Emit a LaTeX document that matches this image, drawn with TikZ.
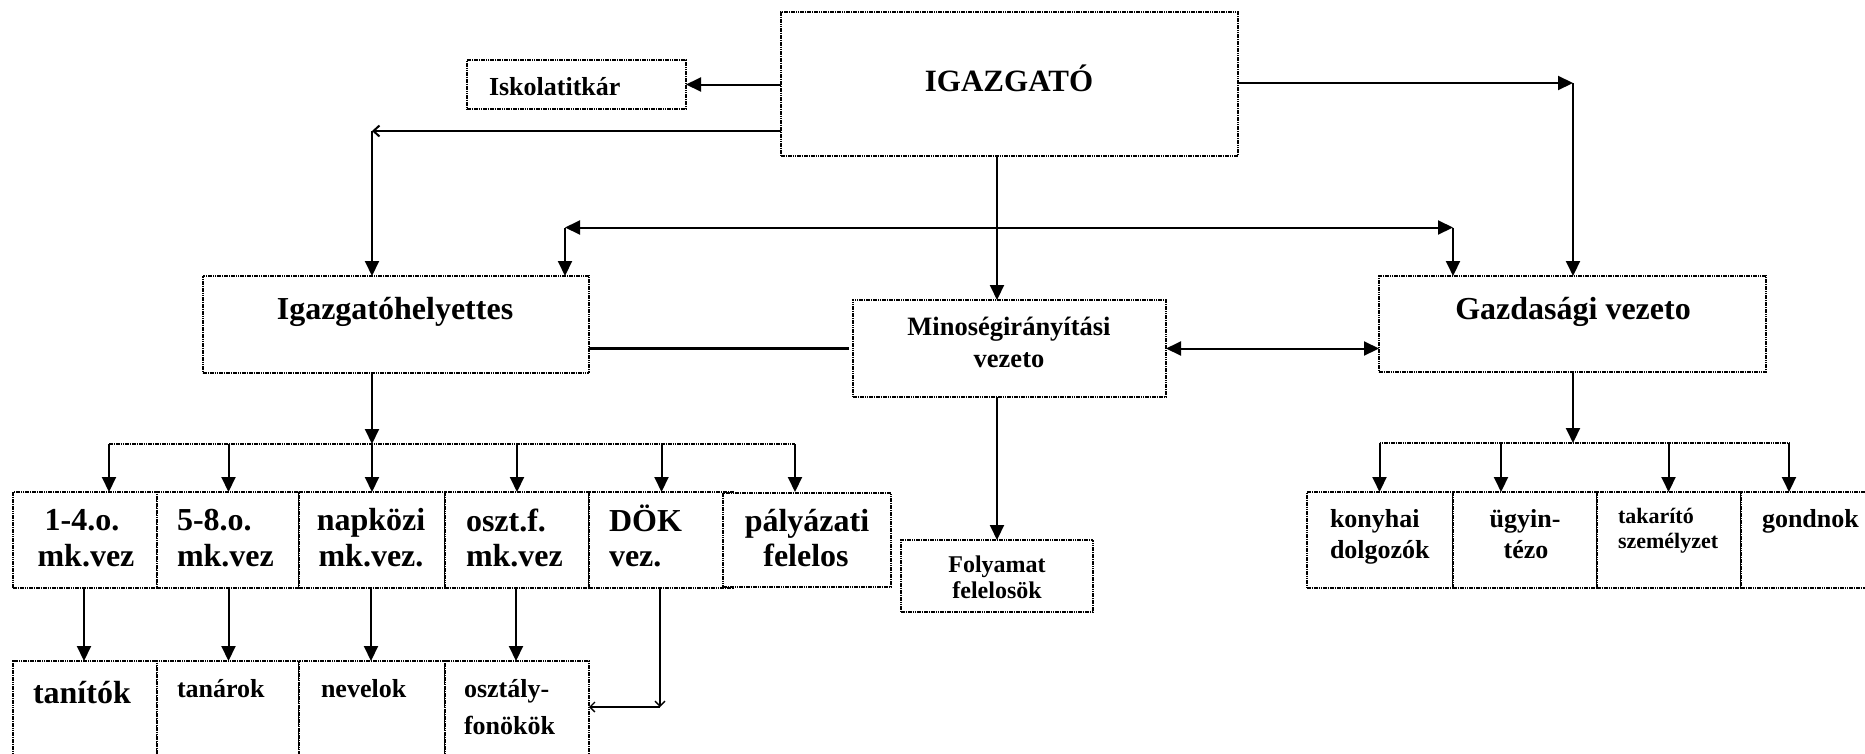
\documentclass[tikz,border=0pt]{standalone}
\usepackage{fontspec}
\setmainfont{Liberation Serif}
\usetikzlibrary{arrows.meta}
\newcommand\fsz[1]{\fontsize{#1}{#1}\selectfont}
\begin{document}
\begin{tikzpicture}[x=1pt,y=-1pt,
  box/.style={draw, line width=2.2pt, dash pattern=on 1.6pt off 0.7pt, fill=white,
              inner sep=0pt, outer sep=0pt, anchor=north west},
  lab/.style={inner sep=0pt, outer sep=0pt},
  conn/.style={line width=2pt},
  arr/.style={conn, -{Triangle[length=15pt,width=14pt]}},
  darr/.style={conn, {Triangle[length=15pt,width=14pt]}-{Triangle[length=15pt,width=14pt]}},
  barb/.style={line width=2pt, -{Straight Barb[length=6pt,width=11pt]}},
  thinbarb/.style={line width=1.3pt, -{Straight Barb[length=5pt,width=10pt]}},
  bus/.style={line width=2.2pt, dash pattern=on 1.6pt off 0.7pt},
  heavy/.style={line width=3.5pt},
]
\useasboundingbox (0,0) rectangle (1865,753);
\fill[white] (0,0) rectangle (1865,753);
\clip (0,0) rectangle (1865,753);

% ---- main boxes
\node[box, minimum width=457pt, minimum height=144pt] (dir)  at (781,12)  {};
\node[box, minimum width=219pt, minimum height=49pt]  (titk) at (467,60)  {};
\node[box, minimum width=386pt, minimum height=97pt]  (ih)   at (203,276) {};
\node[box, minimum width=313pt, minimum height=97pt]  (mir)  at (853,300) {};
\node[box, minimum width=387pt, minimum height=96pt]  (gv)   at (1379,276) {};
\node[box, minimum width=192pt, minimum height=72pt]  (fol)  at (901,540) {};

% ---- teaching row
\node[box, minimum width=144pt, minimum height=96pt] (b14)  at (13,492)  {};
\node[box, minimum width=142pt, minimum height=96pt] (b58)  at (157,492) {};
\node[box, minimum width=146pt, minimum height=96pt] (bnk)  at (299,492) {};
\node[box, minimum width=144pt, minimum height=96pt] (bof)  at (445,492) {};
\node[box, minimum width=144pt, minimum height=96pt] (bdok) at (589,492) {};
\node[box, minimum width=168pt, minimum height=94pt] (bpal) at (723,493) {};

% ---- staff row
\node[box, minimum width=144pt, minimum height=140pt] (btan) at (13,661)  {};
\node[box, minimum width=142pt, minimum height=140pt] (btnr) at (157,661) {};
\node[box, minimum width=146pt, minimum height=140pt] (bnev) at (299,661) {};
\node[box, minimum width=144pt, minimum height=140pt] (bosz) at (445,661) {};

% ---- economic row
\node[box, minimum width=146pt, minimum height=96pt] (bkon) at (1307,492) {};
\node[box, minimum width=144pt, minimum height=96pt] (bugy) at (1453,492) {};
\node[box, minimum width=144pt, minimum height=96pt] (btak) at (1597,492) {};
\node[box, minimum width=160pt, minimum height=96pt] (bgon) at (1741,492) {};

% ---- labels
\node[lab, anchor=base, font=\bfseries\fsz{31}] (tdir) at (1009,91) {IGAZGATÓ};
\node[lab, anchor=base west, font=\bfseries\fsz{26}] (ttitk) at (489,95) {Iskolatitkár};
\node[lab, anchor=base, font=\bfseries\fsz{32}] (tih) at (395,319) {Igazgatóhelyettes};
\node[lab, anchor=base, font=\bfseries\fsz{32}] (tgv) at (1573,319) {Gazdasági vezeto};
\node[lab, anchor=base, font=\bfseries\fsz{26.5}] (tmir1) at (1009,335) {Minoségirányítási};
\node[lab, anchor=base, font=\bfseries\fsz{26.5}] (tmir2) at (1009,367) {vezeto};
\node[lab, anchor=base, font=\bfseries\fsz{24}] (tfol1) at (997,572) {Folyamat};
\node[lab, anchor=base, font=\bfseries\fsz{24}] (tfol2) at (997,598) {felelosök};

\node[lab, anchor=base, font=\bfseries\fsz{32}] (t14a) at (82,530) {1-4.o.};
\node[lab, anchor=base, font=\bfseries\fsz{32}] (t14b) at (86,566) {mk.vez};
\node[lab, anchor=base west, font=\bfseries\fsz{32}] (t58a) at (177,530) {5-8.o.};
\node[lab, anchor=base west, font=\bfseries\fsz{32}] (t58b) at (177,566) {mk.vez};
\node[lab, anchor=base, font=\bfseries\fsz{32}] (tnka) at (371,530) {napközi};
\node[lab, anchor=base, font=\bfseries\fsz{32}] (tnkb) at (371,566) {mk.vez.};
\node[lab, anchor=base west, font=\bfseries\fsz{32}] (tofa) at (466,531) {oszt.f.};
\node[lab, anchor=base west, font=\bfseries\fsz{32}] (tofb) at (466,566) {mk.vez};
\node[lab, anchor=base west, font=\bfseries\fsz{32}] (tdka) at (609,531) {DÖK};
\node[lab, anchor=base west, font=\bfseries\fsz{32}] (tdkb) at (609,566) {vez.};
\node[lab, anchor=base, font=\bfseries\fsz{32}] (tpla) at (807,531) {pályázati};
\node[lab, anchor=base, font=\bfseries\fsz{32}] (tplb) at (806,566) {felelos};

\node[lab, anchor=base west, font=\bfseries\fsz{32}] (ttan) at (33,703) {tanítók};
\node[lab, anchor=base west, font=\bfseries\fsz{26}] (ttnr) at (177,697) {tanárok};
\node[lab, anchor=base west, font=\bfseries\fsz{26}] (tnev) at (321,697) {nevelok};
\node[lab, anchor=base west, font=\bfseries\fsz{26}] (tosa) at (464,697) {osztály-};
\node[lab, anchor=base west, font=\bfseries\fsz{26}] (tosb) at (464,734) {fonökök};

\node[lab, anchor=base west, font=\bfseries\fsz{26}] (tkoa) at (1330,527) {konyhai};
\node[lab, anchor=base west, font=\bfseries\fsz{26}] (tkob) at (1330,558) {dolgozók};
\node[lab, anchor=base, font=\bfseries\fsz{26}] (tuga) at (1525,527) {ügyin-};
\node[lab, anchor=base, font=\bfseries\fsz{26}] (tugb) at (1526,558) {tézo};
\node[lab, anchor=base west, font=\bfseries\fsz{22}] (ttaa) at (1618,523) {takarító};
\node[lab, anchor=base west, font=\bfseries\fsz{22}] (ttab) at (1618,548) {személyzet};
\node[lab, anchor=base west, font=\bfseries\fsz{26}] (tgon) at (1762,527) {gondnok};

% ---- connectors from the director
\draw[arr] (titk.east -| dir.west) -- (titk.east);
\coordinate (ihA) at (372,131);
\draw[barb] (dir.west |- ihA) -- (ihA);
\draw[arr] (ihA) -- (ihA |- ih.north);
\coordinate (gvA) at (1573,83);
\draw[arr] (dir.east |- gvA) -- (gvA);
\draw[arr] (gvA) -- (gvA |- gv.north);
\coordinate (mirA) at (997,0);
\draw[arr] (mirA |- dir.south) -- (mirA |- mir.north);

% ---- link between deputy and economic head
\coordinate (busL) at (565,227.5);
\coordinate (busR) at (1453,227.5);
\draw[darr] (busL) -- (busR);
\draw[arr] (busL) -- (busL |- ih.north);
\draw[arr] (busR) -- (busR |- gv.north);

% ---- middle row links
\draw[heavy] (ih.east |- mir.west) -- ([xshift=-4pt]mir.west);
\draw[darr] (mir.east) -- (mir.east -| gv.west);
\draw[arr] (mirA |- mir.south) -- (mirA |- fol.north);

% ---- deputy's branch
\coordinate (lbus) at (372,444);
\coordinate (lbusL) at (109,444);
\coordinate (lbusR) at (795,444);
\draw[arr] (lbus |- ih.south) -- (lbus);
\draw[bus] (lbusL) -- (lbusR);
\foreach \x in {109,228.5,372,517,661.5,795}
  \draw[arr] (\x,444) -- (\x,0 |- b14.north);
\foreach \x in {84,228.5,371,516}
  \draw[arr] (\x,0 |- b14.south) -- (\x,0 |- btan.north);
\coordinate (dokC) at (660,707);
\draw[thinbarb] (dokC |- bdok.south) -- (dokC);
\draw[thinbarb] (dokC) -- (dokC -| bosz.east);

% ---- economic branch
\coordinate (rbus) at (1573,443);
\coordinate (rbusL) at (1379.5,443);
\coordinate (rbusR) at (1789,443);
\draw[arr] (rbus |- gv.south) -- (rbus);
\draw[bus] (rbusL) -- (rbusR);
\foreach \x in {1379.5,1501,1668.5,1789}
  \draw[arr] (\x,443) -- (\x,0 |- bkon.north);
\end{tikzpicture}
\end{document}
